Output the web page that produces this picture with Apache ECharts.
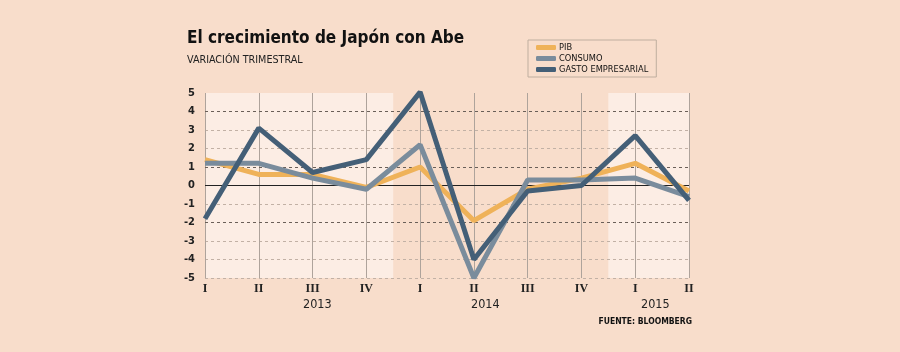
<!DOCTYPE html>
<html>
<head>
<meta charset="utf-8">
<script src="https://cdn.jsdelivr.net/npm/echarts@6/dist/echarts.min.js"></script>
<style>
 html, body { margin: 0; padding: 0; background: #f8ddcb; }
 #chart { width: 900px; height: 352px; }
</style>
</head>
<body>
<div id="chart"></div>
<script>
// quarters 2013 I .. 2015 II
var quarters = ['I', 'II', 'III', 'IV', 'I', 'II', 'III', 'IV', 'I', 'II'];
var years = ['2013', '2014', '2015'];
var pib = [1.4, 0.6, 0.6, -0.1, 1.0, -1.9, -0.2, 0.4, 1.2, -0.3];
var consumo = [1.2, 1.2, 0.4, -0.2, 2.2, -5.0, 0.3, 0.3, 0.4, -0.6];
var gasto = [-1.8, 3.1, 0.7, 1.4, 5.05, -4.0, -0.3, 0.0, 2.7, -0.8];
// light background bands (2013 and 2015)
var bands = [[0, 3.5], [7.5, 9]];
var darkLines = [4, 1, -2];

var sans = '"DejaVu Sans Condensed", "DejaVu Sans", sans-serif';

function pairs(arr) {
  return arr.map(function (v, i) { return [i, v]; });
}

window.onload = function () {
  var myChart = echarts.init(document.getElementById('chart'));

  var option = {
    backgroundColor: '#f8ddcb',
    animation: false,
    title: {
      text: 'El crecimiento de Japón con Abe',
      subtext: 'VARIACIÓN TRIMESTRAL',
      left: 182,
      top: 25,
      itemGap: 8,
      textStyle: { fontFamily: sans, fontWeight: 'bold', fontSize: 17, color: '#111' },
      subtextStyle: { fontFamily: sans, fontSize: 10.7, color: '#222' }
    },
    legend: {
      orient: 'vertical',
      left: 528,
      top: 40,
      padding: [3, 8, 3, 8],
      itemGap: 2,
      itemWidth: 20,
      itemHeight: 5,
      borderColor: '#bfae9f',
      borderWidth: 1,
      icon: 'roundRect',
      textStyle: { fontFamily: sans, fontSize: 9.2, color: '#111', padding: [0, 0, 0, -2] },
      data: ['PIB', 'CONSUMO', 'GASTO EMPRESARIAL']
    },
    grid: { left: 205, right: 211, top: 93, bottom: 74 },
    xAxis: {
      type: 'value',
      min: 0,
      max: 9,
      interval: 1,
      axisLine: { show: false },
      axisTick: { show: false },
      splitLine: { show: true, lineStyle: { color: '#aea39b', width: 1 } },
      axisLabel: {
        margin: 5,
        fontFamily: '"Liberation Serif", "DejaVu Serif", serif',
        fontWeight: 'bold',
        fontSize: 12,
        color: '#222',
        formatter: function (v) { return quarters[v] || ''; }
      }
    },
    yAxis: {
      type: 'value',
      min: -5,
      max: 5,
      interval: 1,
      axisLine: { show: false },
      axisTick: { show: false },
      splitLine: { show: true, showMaxLine: false, lineStyle: { color: '#c2b1a5', type: [3, 3], width: 1 } },
      axisLabel: { margin: 10, fontFamily: sans, fontSize: 11, fontWeight: 'bold', color: '#222' }
    },
    graphic: [
      { type: 'text', left: 303, top: 298, style: { text: years[0], font: '12.5px ' + sans, fill: '#222' } },
      { type: 'text', left: 471, top: 298, style: { text: years[1], font: '12.5px ' + sans, fill: '#222' } },
      { type: 'text', left: 641, top: 298, style: { text: years[2], font: '12.5px ' + sans, fill: '#222' } },
      { type: 'text', right: 208, top: 317, style: { text: 'FUENTE: BLOOMBERG', font: 'bold 8.5px ' + sans, fill: '#111' } }
    ],
    series: [
      {
        name: 'bands',
        type: 'line',
        data: [],
        silent: true,
        z: -1,
        markArea: {
          silent: true,
          z: -1,
          itemStyle: { color: '#fcede4' },
          data: bands.map(function (b) { return [{ xAxis: b[0], yAxis: -5 }, { xAxis: b[1], yAxis: 5 }]; })
        }
      },
      {
        name: 'refs',
        type: 'line',
        data: [],
        silent: true,
        z: 1,
        markLine: {
          silent: true,
          z: 1,
          symbol: 'none',
          label: { show: false },
          data: darkLines.map(function (v) {
            return { yAxis: v, lineStyle: { color: '#6a5f58', type: [3, 3], width: 1 } };
          }).concat([{ yAxis: 0, lineStyle: { color: '#222', type: 'solid', width: 1.2 } }])
        }
      },
      {
        name: 'PIB', type: 'line', data: pairs(pib), symbol: 'none', clip: false,
        lineStyle: { color: '#efb259', width: 5 }, itemStyle: { color: '#efb259' }, z: 3
      },
      {
        name: 'CONSUMO', type: 'line', data: pairs(consumo), symbol: 'none', clip: false,
        lineStyle: { color: '#7a8c9c', width: 5 }, itemStyle: { color: '#7a8c9c' }, z: 4
      },
      {
        name: 'GASTO EMPRESARIAL', type: 'line', data: pairs(gasto), symbol: 'none', clip: false,
        lineStyle: { color: '#445f77', width: 5 }, itemStyle: { color: '#445f77' }, z: 5
      }
    ]
  };

  myChart.setOption(option);
};
</script>
</body>
</html>
